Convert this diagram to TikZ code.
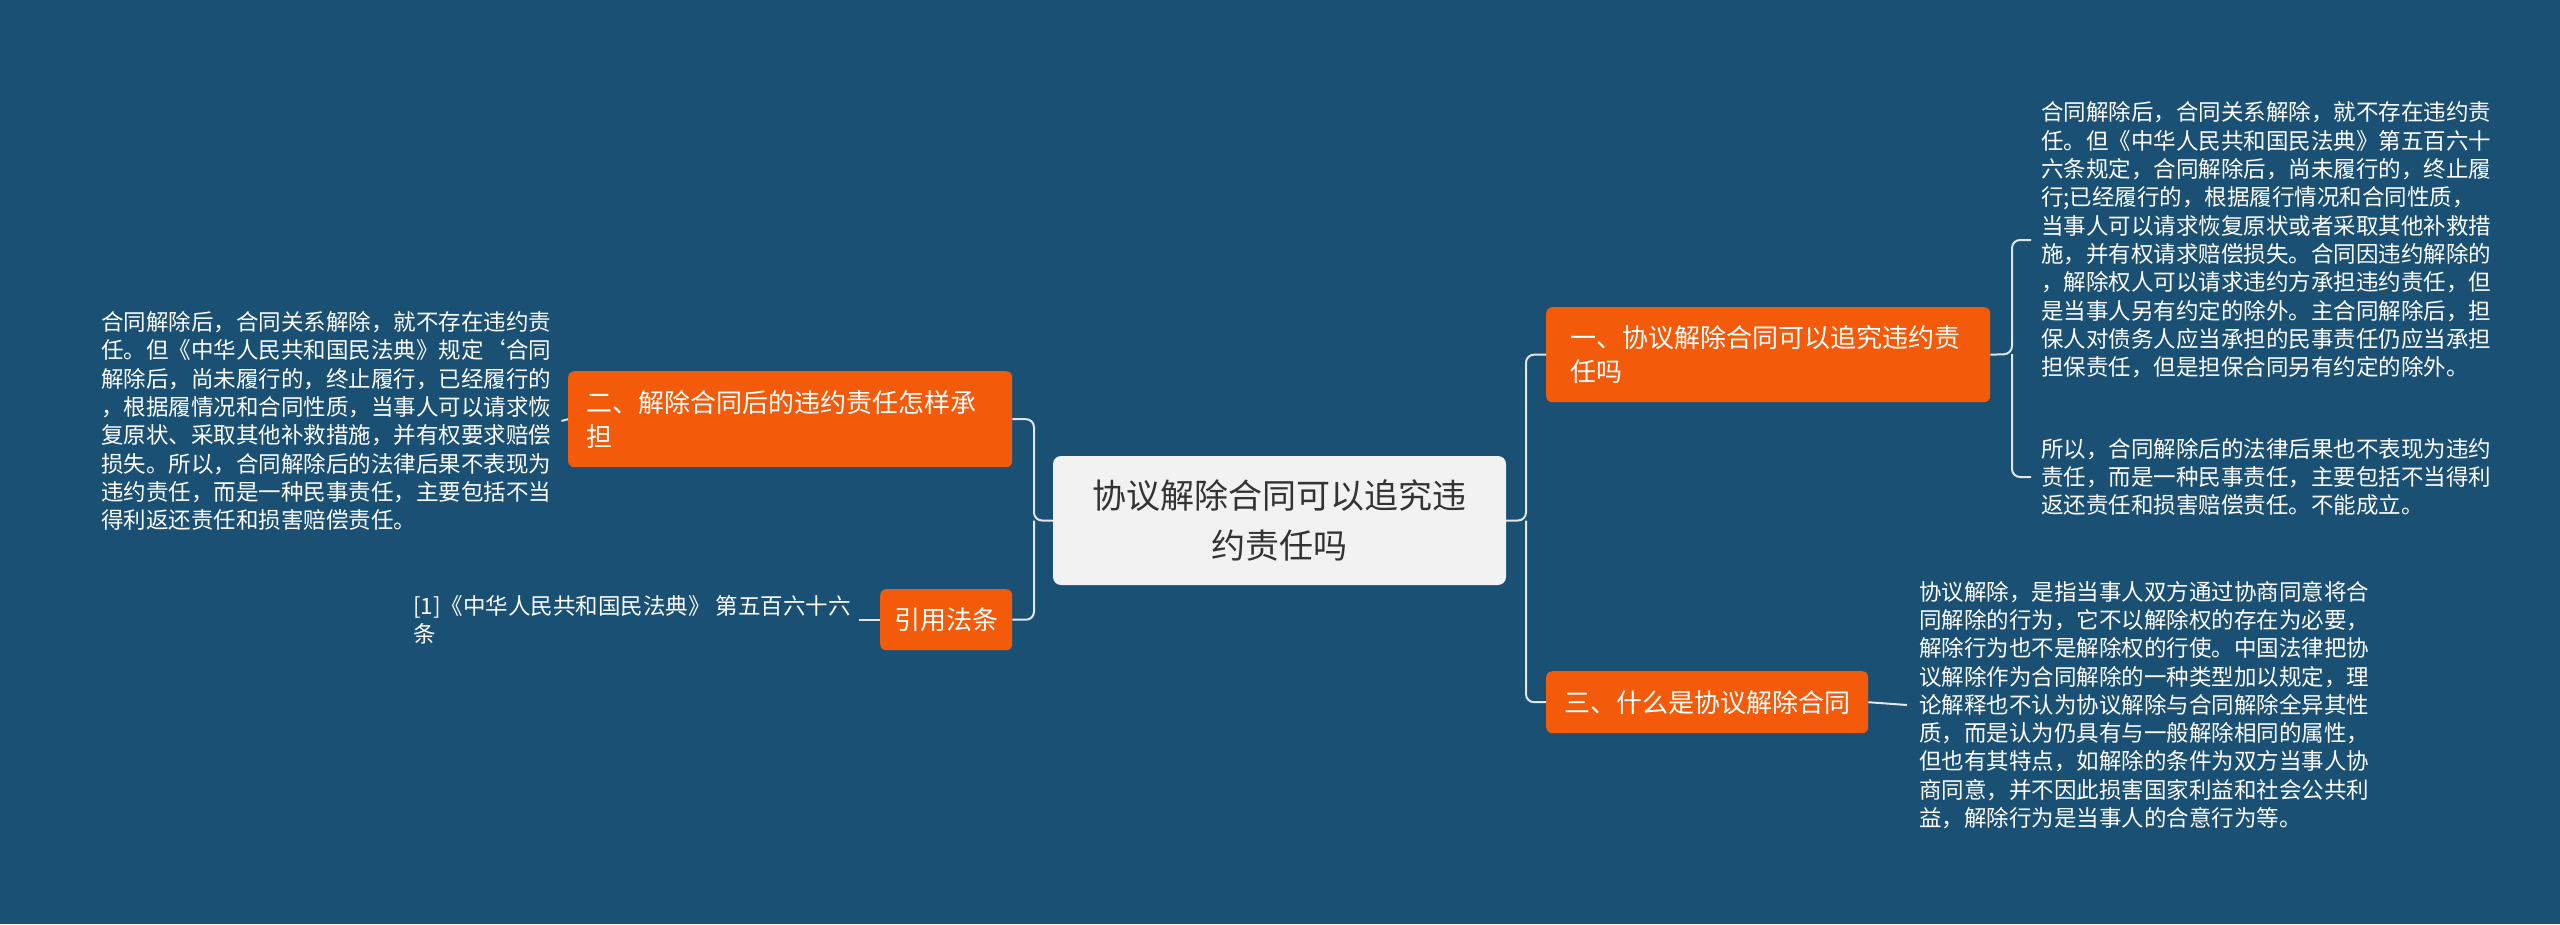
\documentclass[tikz,border=0pt]{standalone}
\usepackage{fontspec}
\setmainfont{Noto Sans CJK SC}
\definecolor{bg}{RGB}{25,80,116}
\definecolor{org}{RGB}{243,90,10}
\definecolor{cgray}{RGB}{242,242,242}
\definecolor{ln}{RGB}{225,230,235}
\begin{document}
\begin{tikzpicture}[x=1pt,y=-1pt,
  topic/.style={fill=org,text=white,rounded corners=6pt,font=\fontsize{26}{34}\selectfont,align=left,inner sep=0pt,anchor=north west},
  leaf/.style={text=white,font=\fontsize{22.5}{28.3}\selectfont,align=left,anchor=west,inner sep=0pt},
  conn/.style={draw=ln,line width=2pt,rounded corners=8pt}]
\fill[bg] (0,0) rectangle (2560,924);
\useasboundingbox (0,0) rectangle (2560,924);
% center
\node[fill=cgray,rounded corners=8pt,minimum width=453pt,minimum height=129pt,inner sep=0pt,align=center,text=black!80,font=\fontsize{34}{50}\selectfont] (c) at (1279.5,520.5) {协议解除合同可以追究违\\约责任吗};
% topics
\node[topic,minimum width=444pt,minimum height=95pt,text width=420pt] (t1) at (1546,307) {\hspace*{12pt}\parbox{420pt}{一、协议解除合同可以追究违约责\\任吗}};
\node[topic,minimum width=322pt,minimum height=62pt] (t3) at (1546,671) {\hspace*{12pt}三、什么是协议解除合同\hspace*{12pt}};
\node[topic,minimum width=444pt,minimum height=96pt] (t2) at (568,371) {\hspace*{12pt}\parbox{420pt}{二、解除合同后的违约责任怎样承\\担}};
\node[topic,minimum width=132pt,minimum height=61pt,align=center] (t4) at (880,589) {\makebox[132pt]{引用法条}};
% leaves
\node[leaf] (l1) at (2041,240) {合同解除后，合同关系解除，就不存在违约责\\任。但《中华人民共和国民法典》第五百六十\\六条规定，合同解除后，尚未履行的，终止履\\行;已经履行的，根据履行情况和合同性质，\\当事人可以请求恢复原状或者采取其他补救措\\施，并有权请求赔偿损失。合同因违约解除的\\，解除权人可以请求违约方承担违约责任，但\\是当事人另有约定的除外。主合同解除后，担\\保人对债务人应当承担的民事责任仍应当承担\\担保责任，但是担保合同另有约定的除外。};
\node[leaf] (l2) at (2041,477) {所以，合同解除后的法律后果也不表现为违约\\责任，而是一种民事责任，主要包括不当得利\\返还责任和损害赔偿责任。不能成立。};
\node[leaf] (l3) at (1919,705) {协议解除，是指当事人双方通过协商同意将合\\同解除的行为，它不以解除权的存在为必要，\\解除行为也不是解除权的行使。中国法律把协\\议解除作为合同解除的一种类型加以规定，理\\论解释也不认为协议解除与合同解除全异其性\\质，而是认为仍具有与一般解除相同的属性，\\但也有其特点，如解除的条件为双方当事人协\\商同意，并不因此损害国家利益和社会公共利\\益，解除行为是当事人的合意行为等。};
\node[leaf] (l4) at (101,421) {合同解除后，合同关系解除，就不存在违约责\\任。但《中华人民共和国民法典》规定‘合同\\解除后，尚未履行的，终止履行，已经履行的\\，根据履情况和合同性质，当事人可以请求恢\\复原状、采取其他补救措施，并有权要求赔偿\\损失。所以，合同解除后的法律后果不表现为\\违约责任，而是一种民事责任，主要包括不当\\得利返还责任和损害赔偿责任。};
\node[leaf] (l5) at (413,620) {[1]《中华人民共和国民法典》 第五百六十六\\条};
% connectors
\coordinate (cr) at (1526,520.5);
\coordinate (cl) at (1034,520.5);
\draw[conn] (c.east) -- (cr) |- (t1.west);
\draw[conn] (cr) |- (t3.west);
\draw[conn] (c.west) -- (cl) |- (t2.east);
\draw[conn] (cl) |- (t4.east);
\coordinate (br) at (2012,354);
\draw[conn] (t1.east) -- (br) |- ([xshift=-10pt]l1.west);
\draw[conn] (br) |- ([xshift=-10pt]l2.west);
\draw[conn] (t3.east) -- ([xshift=-12pt]l3.west);
\draw[conn] (t2.west) -- ([xshift=10pt]l4.east);
\draw[conn] (t4.west) -- ([xshift=8pt]l5.east |- t4.west);
\end{tikzpicture}
\end{document}
